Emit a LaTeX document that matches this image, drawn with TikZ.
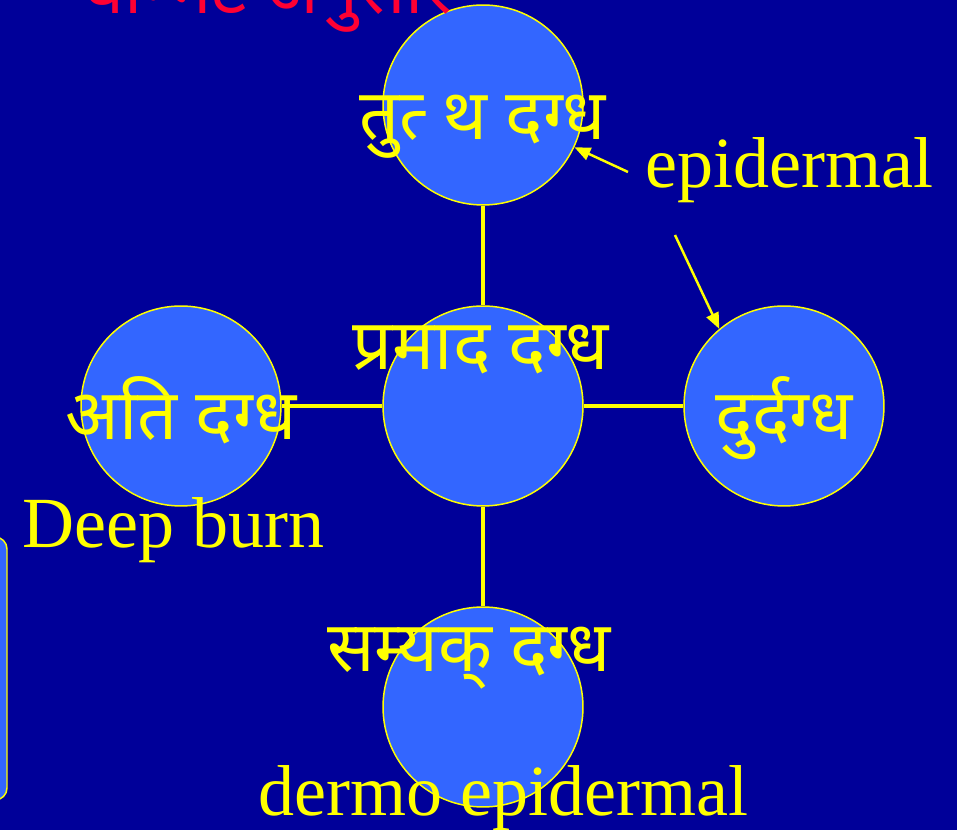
\documentclass[tikz,border=0pt]{standalone}
\usepackage{fontspec}
\setmainfont{Liberation Serif}
\newfontfamily\deva[Script=Devanagari]{Noto Sans}
\usetikzlibrary{arrows.meta}
\pgfdeclarelayer{bglayer}
\pgfdeclarelayer{edgelayer}
\pgfdeclarelayer{nodelayer}
\pgfsetlayers{bglayer,edgelayer,nodelayer,main}
\definecolor{slide}{HTML}{000099}
\definecolor{disc}{HTML}{3366FF}
\definecolor{ylw}{HTML}{FFFF00}
\definecolor{rd}{HTML}{FF0033}
\tikzstyle{burn}=[circle,fill=disc,draw=ylw,line width=0.85pt,minimum size=4cm,inner sep=0pt]
\tikzstyle{hindi}=[text=ylw,font=\deva\fontsize{40}{44}\selectfont,inner sep=0pt,anchor=base]
\tikzstyle{eng}=[text=ylw,font=\fontsize{41}{46}\selectfont,inner sep=0pt,anchor=base west]
\tikzstyle{link}=[draw=ylw,line width=2.3pt]
\tikzstyle{pointer}=[draw=ylw,line width=1.4pt,-{Triangle[length=0.32cm,width=0.26cm]}]

\begin{document}
\begin{tikzpicture}[x=0.02cm,y=-0.02cm]
	\useasboundingbox (0,0) rectangle (957,830);
	\begin{pgfonlayer}{bglayer}
		\fill[slide] (0,0) rectangle (957,830);
		\draw[fill=disc,draw=ylw,line width=0.85pt,rounded corners=0.24cm] (-30,537) rectangle (7,800);
	\end{pgfonlayer}
	\begin{pgfonlayer}{nodelayer}
		\node [style=burn] (pramada) at (483, 406) {};
		\node [style=burn] (tuttha) at (483, 105) {};
		\node [style=burn] (ati) at (181, 406) {};
		\node [style=burn] (durdagdha) at (784, 406) {};
		\node [style=burn] (samyak) at (483, 707) {};
		\coordinate (t1) at (628, 172);
		\coordinate (t2) at (675, 235);
	\end{pgfonlayer}
	\begin{pgfonlayer}{edgelayer}
		\draw[style=link] (tuttha) to (pramada);
		\draw[style=link] (ati) to (pramada);
		\draw[style=link] (pramada) to (durdagdha);
		\draw[style=link] (pramada) to (samyak);
	\end{pgfonlayer}
	\draw[style=pointer] (t1) to (tuttha);
	\draw[style=pointer] (t2) to (durdagdha.130);
	% labels
	\node [style=hindi, text=rd, anchor=base west] (title) at (85, 14) {वाग्भट अनुसार};
	\node [style=hindi] (l0) at (483, 140) {तुत्^^^^200d थ दग्ध};
	\node [style=hindi] (l1) at (481, 370) {प्रमाद दग्ध};
	\node [style=hindi] (l2) at (181, 440) {अति दग्ध};
	\node [style=hindi] (l3) at (784, 440) {दुर्दग्ध};
	\node [style=hindi] (l4) at (469, 672) {सम्यक् दग्ध};
	\node [style=eng] (epi) at (645, 188) {epidermal};
	\node [style=eng] (deep) at (22, 548) {Deep burn};
	\node [style=eng] (derm) at (258, 815) {dermo epidermal};
\end{tikzpicture}
\end{document}
